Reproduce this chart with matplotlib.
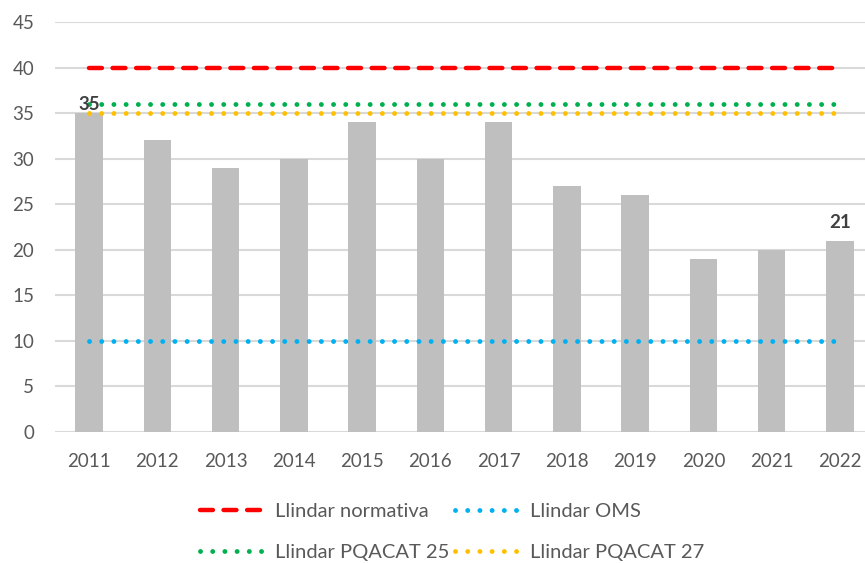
import matplotlib.pyplot as plt
import numpy as np

plt.rcParams['font.family'] = ['Lato', 'DejaVu Sans']

years = ['2011', '2012', '2013', '2014', '2015', '2016',
         '2017', '2018', '2019', '2020', '2021', '2022']
values = [35, 32, 29, 30, 34, 30, 34, 27, 26, 19, 20, 21]

llindar_normativa = 40
llindar_oms = 10
llindar_pqacat25 = 36
llindar_pqacat27 = 35

labelled = {0: '35', 11: '21'}

fig = plt.figure(figsize=(8.65, 5.63), dpi=100)
ax = fig.add_axes([55 / 865, 131 / 563, 819 / 865, 410 / 563])

x = np.arange(len(years))
ax.bar(x, values, width=0.4, color='#BFBFBF', zorder=2)

ends = [x[0], x[-1]]
h_norm, = ax.plot(ends, [llindar_normativa] * 2, color='#FF0000', lw=3.2,
                  dashes=(2.9, 2.4), dash_capstyle='round', zorder=3)
h_oms, = ax.plot(ends, [llindar_oms] * 2, color='#00B0F0', lw=3.5,
                 dashes=(0.01, 2.5), dash_capstyle='round', zorder=3)
h_25, = ax.plot(ends, [llindar_pqacat25] * 2, color='#00B050', lw=3.5,
                dashes=(0.01, 2.5), dash_capstyle='round', zorder=3)
h_27, = ax.plot(ends, [llindar_pqacat27] * 2, color='#FFC000', lw=3.5,
                dashes=(0.01, 2.5), dash_capstyle='round', zorder=3)

for i, txt in labelled.items():
    off = 0 if i == 0 else 7
    ax.annotate(txt, (x[i], values[i]), xytext=(0, off), textcoords='offset points',
                ha='center', va='bottom', fontsize=13.5, fontweight='bold',
                color='#404040', zorder=4)

ax.set_xlim(-0.5, len(years) - 0.5)
ax.set_ylim(0, 45)
ax.set_yticks(range(0, 46, 5))
ax.set_xticks(x)
ax.set_xticklabels(years)
ax.tick_params(length=0, labelsize=13.5, labelcolor='#595959')
ax.tick_params(axis='x', pad=15)
ax.tick_params(axis='y', pad=15)
ax.grid(axis='y', color='#D9D9D9', lw=1.5, zorder=0)
ax.set_axisbelow(True)
for s in ax.spines.values():
    s.set_visible(False)

fig.legend([h_norm, h_25, h_oms, h_27],
           ['Llindar normativa', 'Llindar PQACAT 25', 'Llindar OMS', 'Llindar PQACAT 27'],
           ncol=2, loc='center', bbox_to_anchor=(452 / 865, 1 - 532 / 563),
           frameon=False, fontsize=14.5, labelcolor='#595959',
           handlelength=3.3, handletextpad=0.4, columnspacing=0.3,
           labelspacing=1.2)

fig.savefig('out.png', dpi=100)
